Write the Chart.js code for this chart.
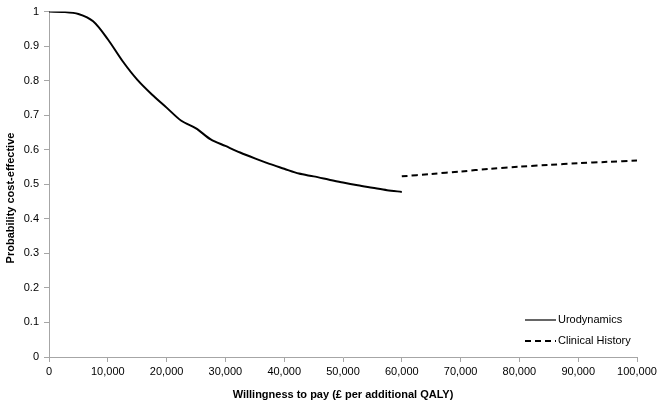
<!DOCTYPE html>
<html>
<head>
<meta charset="utf-8">
<script src="https://cdn.jsdelivr.net/npm/chart.js@4"></script>
<style>
  html, body { margin: 0; padding: 0; background: #fff; }
  #wrap { width: 660px; height: 406px; }
</style>
</head>
<body>
<div id="wrap"><canvas id="ceac" width="660" height="406"></canvas></div>
<script>
// willingness to pay (GBP per QALY)
const wtpUro = [0, 2500, 5000, 7500, 10000, 12500, 15000, 17500, 20000, 22500, 25000, 27500, 30000,
  32500, 35000, 37500, 40000, 42500, 45000, 47500, 50000, 52500, 55000, 57500, 60000];
const probUro = [1.000, 0.999, 0.993, 0.972, 0.920, 0.857, 0.803, 0.760, 0.722, 0.684, 0.662, 0.630, 0.611,
  0.592, 0.575, 0.559, 0.545, 0.531, 0.523, 0.514, 0.505, 0.497, 0.490, 0.483, 0.478];

const wtpHist = [60000, 65000, 70000, 75000, 80000, 85000, 90000, 95000, 100000];
const probHist = [0.523, 0.530, 0.537, 0.545, 0.551, 0.556, 0.561, 0.565, 0.569];

const seriesNames = ['Urodynamics', 'Clinical History'];
const yTitle = 'Probability cost-effective';

const axisGrey = '#a6a6a6';
const font = '"Liberation Sans", Arial, sans-serif';

// legend sits inside the plot, bottom right; y title sits a bit below centre like the original
const extras = {
  id: 'extras',
  afterDraw(chart) {
    const ctx = chart.ctx;
    const area = chart.chartArea;
    const x0 = area.right - 112;
    const rows = [area.bottom - 37, area.bottom - 16];
    ctx.save();
    ctx.font = '11px ' + font;
    ctx.fillStyle = '#000';
    ctx.textBaseline = 'middle';
    chart.data.datasets.forEach((ds, i) => {
      ctx.beginPath();
      ctx.strokeStyle = '#000';
      ctx.lineWidth = ds.borderDash ? 2 : 1.2;
      ctx.setLineDash(ds.borderDash || []);
      ctx.moveTo(x0, rows[i]);
      ctx.lineTo(x0 + 31, rows[i]);
      ctx.stroke();
      ctx.setLineDash([]);
      ctx.fillText(ds.label, x0 + 33, rows[i]);
    });

    ctx.translate(11, 198);
    ctx.rotate(-Math.PI / 2);
    ctx.font = 'bold 11px ' + font;
    ctx.textAlign = 'center';
    ctx.fillText(yTitle, 0, 0);
    ctx.restore();
  }
};

new Chart(document.getElementById('ceac'), {
  type: 'line',
  data: {
    datasets: [{
      label: seriesNames[0],
      data: wtpUro.map((w, i) => ({ x: w, y: probUro[i] })),
      borderColor: '#000',
      borderWidth: 2,
      pointRadius: 0,
      tension: 0.3,
      fill: false
    }, {
      label: seriesNames[1],
      data: wtpHist.map((w, i) => ({ x: w, y: probHist[i] })),
      borderColor: '#000',
      borderWidth: 2,
      borderDash: [6, 4],
      pointRadius: 0,
      tension: 0.3,
      fill: false
    }]
  },
  options: {
    responsive: false,
    animation: false,
    layout: { padding: { top: 9, right: 23, left: 0, bottom: 0 } },
    plugins: {
      legend: { display: false },
      tooltip: { enabled: false }
    },
    scales: {
      x: {
        type: 'linear',
        min: 0,
        max: 100000,
        afterFit: s => { s.height = 49; },
        border: { color: axisGrey, width: 1 },
        grid: { drawOnChartArea: false, color: axisGrey, tickLength: 5 },
        ticks: {
          stepSize: 10000,
          maxRotation: 0,
          autoSkip: false,
          color: '#000',
          padding: 3,
          font: { family: font, size: 11 },
          callback: v => v.toLocaleString('en-GB')
        },
        title: {
          display: true,
          text: 'Willingness to pay (£ per additional QALY)',
          color: '#000',
          font: { family: font, size: 11, weight: 'bold' },
          padding: { top: 8 }
        }
      },
      y: {
        min: 0,
        max: 1,
        afterFit: s => { s.width = 49; },
        border: { color: axisGrey, width: 1 },
        grid: { drawOnChartArea: false, color: axisGrey, tickLength: 5 },
        ticks: {
          stepSize: 0.1,
          color: '#000',
          padding: 5,
          font: { family: font, size: 11 },
          callback: v => String(Math.round(v * 10) / 10)
        }
      }
    }
  },
  plugins: [extras]
});
</script>
</body>
</html>
